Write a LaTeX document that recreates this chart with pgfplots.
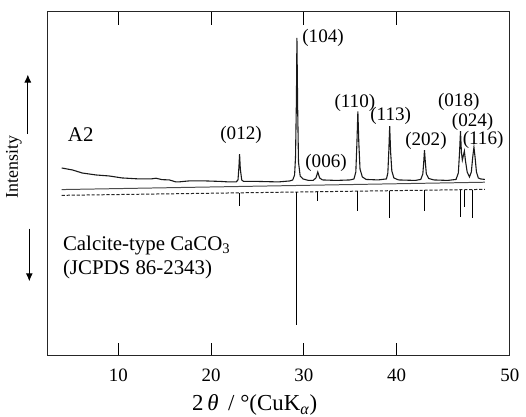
\documentclass[border=0pt]{standalone}
\usepackage{fontspec}
\setmainfont{Liberation Serif}
\usepackage{pgfplots}
\pgfplotsset{compat=1.18}
\usetikzlibrary{arrows.meta}
\pgfplotstableread{
x y
3.9 189
5.07 187
6.1 184
7.6 182
9.0 181
10.4 179
12.25 178
13.5 178
14.07 178.7
14.7 177.3
15.5 177
16.2 175
16.5 175
17.6 176
19.4 176
21.0 175.5
21.9 175
22.7 175
22.9 177
23.0 190
23.07 203
23.15 188
23.3 177
23.5 175.5
25.0 175.5
27.25 175
28.5 176
28.8 177
29.0 182
29.1 200
29.2 260
29.25 320
29.33 250
29.42 195
29.6 181
29.9 178
30.5 176.5
31.0 176.5
31.3 179
31.5 185
31.7 179
32.0 177
33.5 176.5
35.0 177
35.4 178
35.6 185
35.72 215
35.82 246
35.92 215
36.05 188
36.3 180
36.7 177.5
38.0 177
38.9 178
39.05 184
39.15 205
39.25 231
39.35 205
39.48 186
39.7 179
40.2 177
42.0 176.5
42.6 177.5
42.82 183
42.92 195
43.0 207
43.1 194
43.2 183
43.45 178.5
44.0 177
45.5 176.5
46.4 177.5
46.65 184
46.78 205
46.88 226
46.98 205
47.08 197
47.2 202
47.3 206
47.42 196
47.6 185
47.85 180
48.05 185
48.2 200
48.33 210
48.45 200
48.6 185
48.8 179
49.05 178
49.5 177.5
}\pattern
\pgfplotstableread{
x y
23.07 164.0
23.07 151
nan nan
29.25 164.8
29.25 31
nan nan
31.5 165.1
31.5 156
nan nan
35.82 165.7
35.82 146
nan nan
39.25 166.15
39.25 139
nan nan
43.0 166.6
43.0 146
nan nan
46.9 167.1
46.9 140
nan nan
47.3 167.2
47.3 150
nan nan
48.2 167.3
48.2 139
}\sticks
\begin{document}
\begin{tikzpicture}
\begin{axis}[name=ax, scale only axis, width=232.5pt, height=173pt,
  xmin=2.39, xmax=52.21, ymin=0, ymax=346,
  xtick={10,20,30,40,52.21}, xticklabels={10,20,30,40,50},
  ytick=\empty, tick align=inside, major tick length=6.5pt,
  xtick pos=both,
  axis line style={black!85, line width=0.5pt},
  every tick/.style={black, line width=0.5pt},
  tick label style={font=\fontsize{9.5}{10}\selectfont},
  /pgf/number format/assume math mode=true,
  xticklabel style={yshift=-3pt},
  clip=false, unbounded coords=jump]
\addplot[black!90, line width=0.55pt] table[x=x,y=y] {\pattern};
\addplot[black!70, line width=0.5pt] coordinates {(3.9,167.3) (49.5,174.7)};
\addplot[black!85, line width=0.5pt, dash pattern=on 1.6pt off 0.9pt] coordinates {(3.9,161.5) (49.5,167.5)};
\addplot[black, line width=0.5pt] table[x=x,y=y] {\sticks};
\end{axis}
\begin{scope}[shift={(ax.north west)}, xshift=-24pt, yshift=6pt, x=0.5pt, y=-0.5pt]
\useasboundingbox (0,0) rectangle (526,419);
\begin{scope}[every node/.style={inner sep=0pt, font=\fontsize{9.6}{10}\selectfont}]
\node at (242.5,136) {(012)};
\node at (325,38.5) {(104)};
\node at (328,163.5) {(006)};
\node at (357,103.5) {(110)};
\node at (393,117) {(113)};
\node at (428.5,142) {(202)};
\node at (461.5,103) {(018)};
\node at (475.5,123) {(024)};
\node at (486,141) {(116)};
\end{scope}
\begin{scope}[every node/.style={inner sep=0pt, font=\fontsize{10.5}{12}\selectfont}]
\node[anchor=base west] at (68,142) {A2};
\node[anchor=base west] at (63,252) {Calcite-type CaCO\textsubscript{3}};
\node[anchor=base west] at (63,276) {(JCPDS 86-2343)};
\node[anchor=base west, font=\fontsize{11.5}{13}\selectfont] at (193,413) {2\,\textit{θ}\, / °(CuK\textsubscript{\itshape α})};
\node[rotate=90, font=\fontsize{9}{10}\selectfont] at (14,168) {Intensity};
\end{scope}
\draw[line width=0.5pt, -{Latex[length=4pt,width=3.5pt]}] (28,135) -- (28,75);
\draw[line width=0.5pt, -{Latex[length=4pt,width=3.5pt]}] (29.5,230) -- (29.5,283);
\end{scope}
\end{tikzpicture}
\end{document}
